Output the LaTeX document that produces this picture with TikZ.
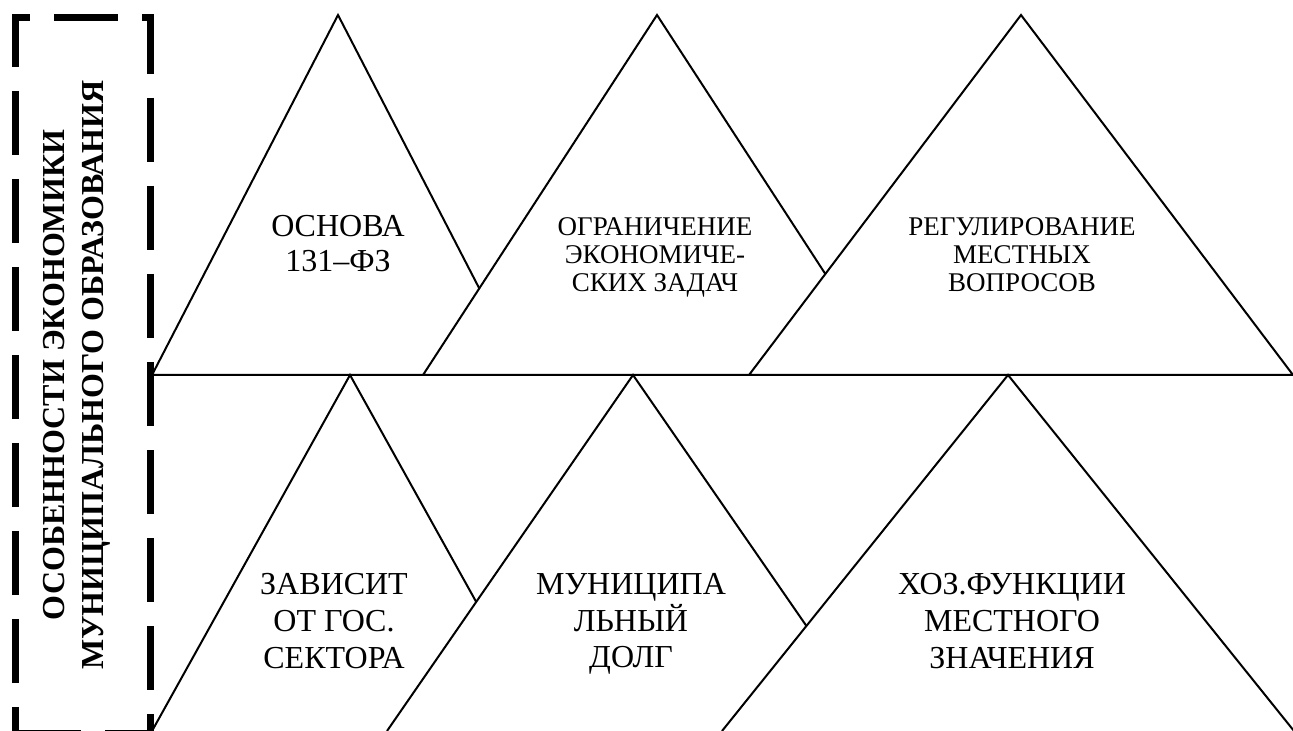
\documentclass[tikz,border=0pt]{standalone}
\usepackage{fontspec}
\setmainfont{Liberation Serif}

\begin{document}
\begin{tikzpicture}[x=0.5pt, y=-0.5pt,
    tri/.style={draw=black, fill=white, line width=1pt},
    lbl/.style={align=center, inner sep=0pt, font=\fontsize{16}{18.3}\selectfont},
    lblsmall/.style={align=center, inner sep=0pt, font=\fontsize{13.5}{14}\selectfont},
    frame/.style={line width=3.5pt, dash pattern=on 32pt off 12pt, dash phase=19pt}]
    \useasboundingbox (0,0) rectangle (1293,731);
    % upper row of triangles (later ones cover the earlier)
    \foreach \ax/\bl/\br in {338/152/524, 657/423/891, 1021/749/1293}
        \filldraw[tri] (\bl,375) -- (\ax,15) -- (\br,375) -- cycle;
    % lower row, the bases run off the page
    \foreach \ax/\bl/\br in {350/152/548, 633/387/879, 1008/722/1294}
        \filldraw[tri] (\bl,731) -- (\ax,375) -- (\br,731);

    % dashed frame with the title
    \draw[frame] (15,733) -- (15,18) -- (150,18) -- (150,733) -- cycle;
    \node[rotate=90, align=center, inner sep=0pt,
        font=\bfseries\fontsize{16}{19.5}\selectfont] (title) at (77,375)
        {ОСОБЕННОСТИ ЭКОНОМИКИ\\МУНИЦИПАЛЬНОГО ОБРАЗОВАНИЯ};

    % labels, upper row
    \node[lbl, font=\fontsize{16}{17.5}\selectfont] (osnova) at (338,244) {ОСНОВА\\131–ФЗ};
    \node[lblsmall] (ogran) at (655,257) {ОГРАНИЧЕНИЕ\\ЭКОНОМИЧЕ-\\СКИХ ЗАДАЧ};
    \node[lblsmall] (regul) at (1022,255) {РЕГУЛИРОВАНИЕ\\МЕСТНЫХ\\ВОПРОСОВ};
    % labels, lower row
    \node[lbl] (zavisit) at (334,621) {ЗАВИСИТ\\ОТ ГОС.\\СЕКТОРА};
    \node[lbl] (dolg) at (631,624) {МУНИЦИПА\\ЛЬНЫЙ\\ДОЛГ};
    \node[lbl] (hoz) at (1012,621) {ХОЗ.ФУНКЦИИ\\МЕСТНОГО\\ЗНАЧЕНИЯ};
\end{tikzpicture}
\end{document}
